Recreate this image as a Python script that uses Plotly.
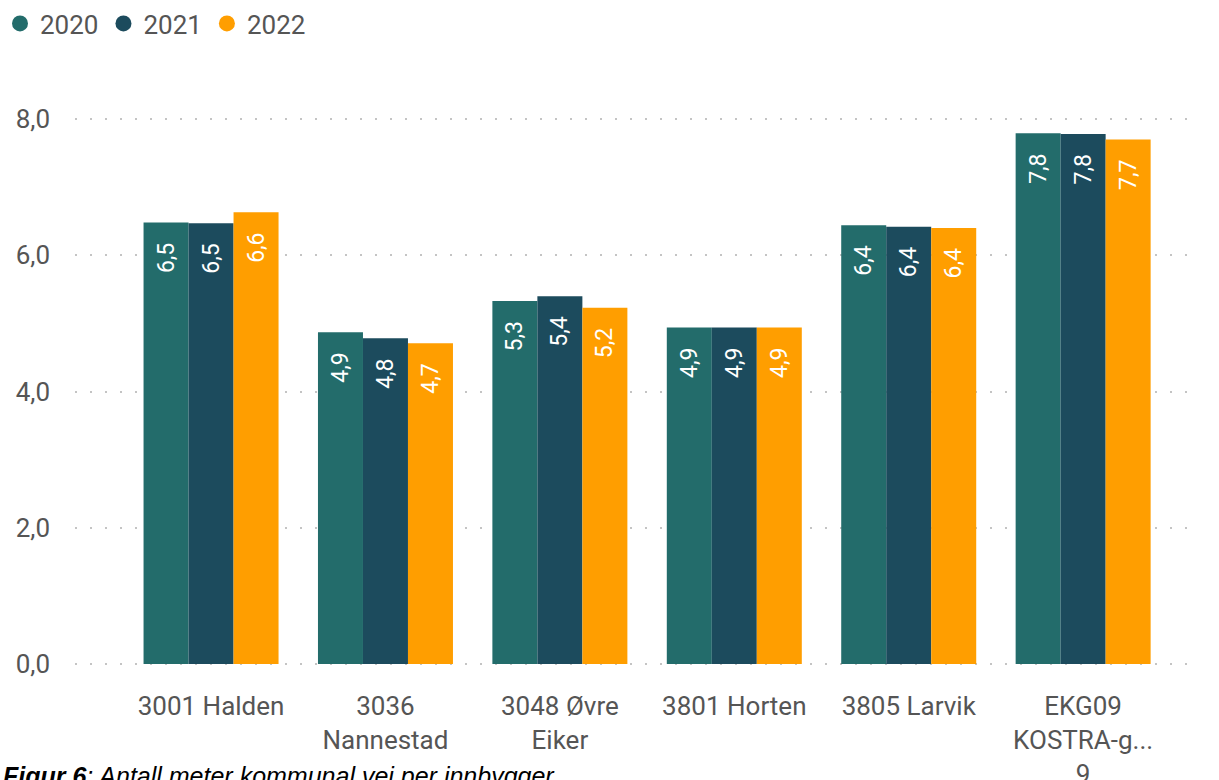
import plotly.graph_objects as go

# Municipalities / comparison group on the category axis
categories = [
    "3001 Halden",
    "3036<br>Nannestad",
    "3048 Øvre<br>Eiker",
    "3801 Horten",
    "3805 Larvik",
    "EKG09<br>KOSTRA-g...<br>9",
]

# Metres of municipal road per inhabitant, per year
years = ["2020", "2021", "2022"]
values_2020 = [6.48, 4.87, 5.33, 4.94, 6.44, 7.79]
values_2021 = [6.47, 4.78, 5.40, 4.94, 6.42, 7.78]
values_2022 = [6.63, 4.71, 5.23, 4.94, 6.40, 7.70]
series = [values_2020, values_2021, values_2022]
colors = ["#236C6B", "#1C4B5D", "#FF9E00"]

y_ticks = [0, 2, 4, 6, 8]

FONT = "Roboto, DejaVu Sans, sans-serif"
GREY = "#555555"

fig = go.Figure()
for year, vals, col in zip(years, series, colors):
    fig.add_trace(go.Bar(
        name=year,
        x=list(range(len(categories))),
        y=vals,
        marker=dict(color=col, line=dict(width=0)),
        # trailing non-breaking spaces keep the label off the bar top
        texttemplate="%{y:.1f}\u00a0\u00a0\u00a0",
        textposition="inside",
        insidetextanchor="end",
        textangle=-90,
        textfont=dict(color="white", size=23, family=FONT),
        showlegend=False,
        hoverinfo="skip",
        cliponaxis=False,
    ))
    # circular legend markers
    fig.add_trace(go.Scatter(
        name=year, x=[None], y=[None], mode="markers",
        marker=dict(symbol="circle", size=20, color=col),
        showlegend=True,
    ))

fig.update_layout(
    width=1219, height=780,
    margin=dict(l=75, r=19, t=117, b=114),
    paper_bgcolor="white",
    plot_bgcolor="white",
    barmode="group",
    bargap=0.226,
    bargroupgap=0,
    separators=", ",
    font=dict(family=FONT, color=GREY, size=26),
    legend=dict(
        orientation="h", x=0.0, y=1.0, xref="container", yref="container",
        xanchor="left", yanchor="top",
        font=dict(size=26, color=GREY, family=FONT),
        itemwidth=30, tracegroupgap=0,
        bgcolor="rgba(0,0,0,0)",
    ),
    uniformtext=dict(minsize=10, mode="show"),
)

fig.update_xaxes(
    range=[-0.78, 5.67],
    tickmode="array",
    tickvals=list(range(len(categories))),
    ticktext=categories,
    showgrid=False, zeroline=False, showline=False,
    ticks="", tickfont=dict(size=26, color=GREY, family=FONT),
    ticklabelstandoff=22,
    tickangle=0,
    automargin=False,
)
fig.update_yaxes(
    range=[-0.03, 8.03],
    tickmode="array",
    tickvals=y_ticks,
    tickformat=".1f",
    showgrid=True, gridcolor="#C4C4C4", gridwidth=1.5, griddash="2px,13px",
    zeroline=False, showline=False, ticks="",
    tickfont=dict(size=26, color=GREY, family=FONT),
    ticklabelstandoff=24,
    automargin=False,
)

fig.add_annotation(
    xref="paper", yref="paper", x=-0.066, y=-0.172,
    xanchor="left", yanchor="top", showarrow=False,
    text="<b><i>Figur 6</i></b><i>: Antall meter kommunal vei per innbygger</i>",
    font=dict(family="Liberation Sans, Arial, sans-serif", size=25, color="#000000"),
)

fig.write_html("out.html")
